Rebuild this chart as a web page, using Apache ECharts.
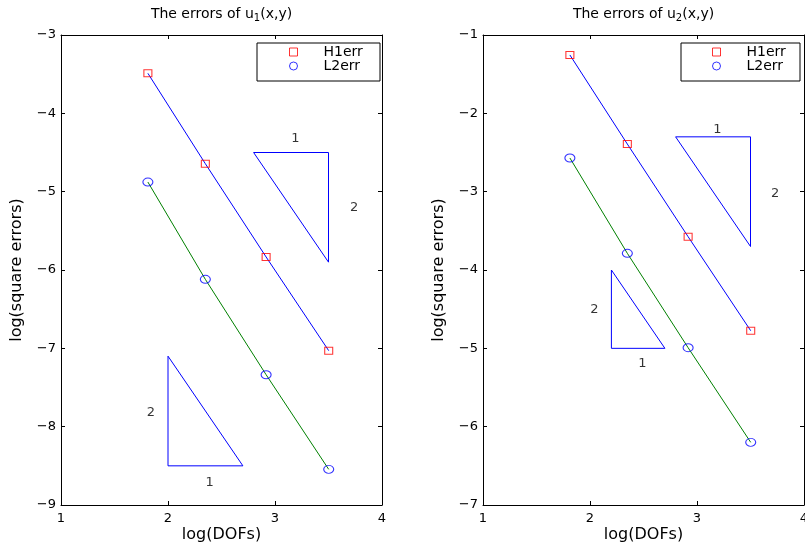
<!DOCTYPE html>
<html>
<head>
<meta charset="utf-8">
<script src="https://cdn.jsdelivr.net/npm/echarts@6/dist/echarts.min.js"></script>
<style>html,body{margin:0;padding:0;background:#fff}#c{width:805px;height:544px}</style>
</head>
<body>
<div id="c"></div>
<script>
// ---- data ----
const logDofs = [1.812, 2.349, 2.917, 3.502];
const h1Left = [-3.489, -4.643, -5.834, -7.030];
const l2Left = [-4.877, -6.119, -7.337, -8.545];
const h1Right = [-1.255, -2.392, -3.575, -4.775];
const l2Right = [-2.570, -3.787, -4.992, -6.200];
const xTicks = [1, 2, 3, 4];
const yTicksLeft = [-9, -8, -7, -6, -5, -4, -3];
const yTicksRight = [-7, -6, -5, -4, -3, -2, -1];
const triLeftA = [[2.8, -4.5], [3.5, -4.5], [3.5, -5.9], [2.8, -4.5]];
const triLeftB = [[2.0, -7.1], [2.0, -8.5], [2.7, -8.5], [2.0, -7.1]];
const triRightA = [[2.8, -2.3], [3.5, -2.3], [3.5, -3.7], [2.8, -2.3]];
const triRightB = [[2.2, -4.0], [2.2, -5.0], [2.7, -5.0], [2.2, -4.0]];
const slopeLabelsLeft = [[3.19, -4.32, '1'], [3.74, -5.21, '2'], [1.84, -7.82, '2'], [2.39, -8.72, '1']];
const slopeLabelsRight = [[3.19, -2.21, '1'], [3.73, -3.02, '2'], [2.04, -4.51, '2'], [2.49, -5.20, '1']];
const titles = ['1', '2'];

// ---- chart ----
const FF = '"DejaVu Sans", "Liberation Sans", Arial, sans-serif';
const zip = (xs, ys) => xs.map((x, i) => [x, ys[i]]);
const minus = v => (v < 0 ? '\u2212' + (-v) : String(v));

function xAxes(g, sub) {
  const common = {
    gridIndex: g, type: 'value', min: xTicks[0], max: xTicks[xTicks.length - 1], interval: 1,
    axisLine: { onZero: false, lineStyle: { color: '#000', width: 1 } },
    axisTick: { inside: true, length: 4, lineStyle: { color: '#000' } },
    splitLine: { show: false }
  };
  return [
    Object.assign({}, common, {
      position: 'bottom',
      axisLabel: { color: '#000', fontSize: 13, fontFamily: FF, margin: 7, formatter: minus },
      name: 'log(DOFs)', nameLocation: 'middle', nameGap: 22, nameMoveOverlap: false,
      nameTextStyle: { color: '#000', fontSize: 16, fontFamily: FF }
    }),
    Object.assign({}, common, {
      position: 'top', axisLabel: { show: false },
      name: '{n|The errors of u}{s|' + sub + '}{n|(x,y)}', nameLocation: 'middle', nameGap: 12,
      nameTextStyle: {
        color: '#000', fontFamily: FF,
        rich: {
          n: { fontSize: 14, fontFamily: FF, color: '#000', lineHeight: 18, verticalAlign: 'middle' },
          s: { fontSize: 10, fontFamily: FF, color: '#000', lineHeight: 10, verticalAlign: 'bottom' }
        }
      }
    })
  ];
}
function yAxes(g, ticks) {
  const common = {
    gridIndex: g, type: 'value', min: ticks[0], max: ticks[ticks.length - 1], interval: 1,
    axisLine: { onZero: false, lineStyle: { color: '#000', width: 1 } },
    axisTick: { inside: true, length: 4, lineStyle: { color: '#000' } },
    splitLine: { show: false }
  };
  return [
    Object.assign({}, common, {
      position: 'left',
      axisLabel: { color: '#000', fontSize: 13, fontFamily: FF, margin: 5, formatter: minus },
      name: 'log(square errors)', nameLocation: 'middle', nameGap: 36, nameMoveOverlap: false,
      nameTextStyle: { color: '#000', fontSize: 16, fontFamily: FF }
    }),
    Object.assign({}, common, { position: 'right', axisLabel: { show: false } })
  ];
}

function plotSeries(g, h1, l2, triA, triB, labels) {
  const xi = g * 2, yi = g * 2;
  return [
    { type: 'line', name: 'H1fit', xAxisIndex: xi, yAxisIndex: yi, data: zip(logDofs, h1), symbol: 'none',
      lineStyle: { color: '#0000ff', width: 1 }, silent: true, z: 2 },
    { type: 'line', name: 'L2fit', xAxisIndex: xi, yAxisIndex: yi, data: zip(logDofs, l2), symbol: 'none',
      lineStyle: { color: '#008000', width: 1 }, silent: true, z: 2 },
    { type: 'line', name: 'triA', xAxisIndex: xi, yAxisIndex: yi, data: triA, symbol: 'none',
      lineStyle: { color: '#0000ff', width: 1 }, silent: true, z: 2 },
    { type: 'line', name: 'triB', xAxisIndex: xi, yAxisIndex: yi, data: triB, symbol: 'none',
      lineStyle: { color: '#0000ff', width: 1 }, silent: true, z: 2 },
    { type: 'scatter', name: 'H1err', xAxisIndex: xi, yAxisIndex: yi, data: zip(logDofs, h1),
      symbol: 'rect', symbolSize: [8, 7],
      itemStyle: { color: 'transparent', borderColor: '#ff0000', borderWidth: 1 }, z: 3 },
    { type: 'scatter', name: 'L2err', xAxisIndex: xi, yAxisIndex: yi, data: zip(logDofs, l2),
      symbol: 'circle', symbolSize: [10, 8],
      itemStyle: { color: 'transparent', borderColor: '#0000ff', borderWidth: 1 }, z: 3 },
    { type: 'scatter', name: 'slopes', xAxisIndex: xi, yAxisIndex: yi, data: labels,
      symbolSize: 0, silent: true,
      label: { show: true, position: 'inside', formatter: p => p.value[2], color: '#000', fontSize: 13, fontFamily: FF } }
  ];
}

const legendCommon = {
  data: ['H1err', 'L2err'], orient: 'vertical', top: 45, itemWidth: 8, itemHeight: 8, itemGap: 0,
  selectedMode: false, padding: 0,
  itemStyle: { borderWidth: 1 },
  textStyle: { color: '#000', fontSize: 14, fontFamily: FF, padding: [0, 0, 0, 21] }
};

const option = {
  backgroundColor: '#fff',
  animation: false,
  grid: [
    { left: 61, top: 35, width: 321, height: 470, containLabel: false, outerBoundsMode: 'none' },
    { left: 483, top: 35, width: 321, height: 470, containLabel: false, outerBoundsMode: 'none' }
  ],
  xAxis: [].concat(xAxes(0, titles[0]), xAxes(1, titles[1])),
  yAxis: [].concat(yAxes(0, yTicksLeft), yAxes(1, yTicksRight)),
  graphic: [
    { type: 'rect', shape: { x: 257, y: 43, width: 123, height: 38 }, style: { fill: '#fff', stroke: '#000', lineWidth: 1 }, z: 5 },
    { type: 'rect', shape: { x: 681, y: 43, width: 119, height: 38 }, style: { fill: '#fff', stroke: '#000', lineWidth: 1 }, z: 5 }
  ],
  legend: [
    Object.assign({}, legendCommon, { left: 289, z: 10 }),
    Object.assign({}, legendCommon, { left: 712, z: 10 })
  ],
  series: [].concat(
    plotSeries(0, h1Left, l2Left, triLeftA, triLeftB, slopeLabelsLeft),
    plotSeries(1, h1Right, l2Right, triRightA, triRightB, slopeLabelsRight)
  )
};
// second grid uses axis indices 2,3
option.series.forEach((s, i) => { if (i >= 7) { s.xAxisIndex = 2; s.yAxisIndex = 2; } });

const chart = echarts.init(document.getElementById('c'), null, { renderer: 'canvas' });
chart.setOption(option);
</script>
</body>
</html>
